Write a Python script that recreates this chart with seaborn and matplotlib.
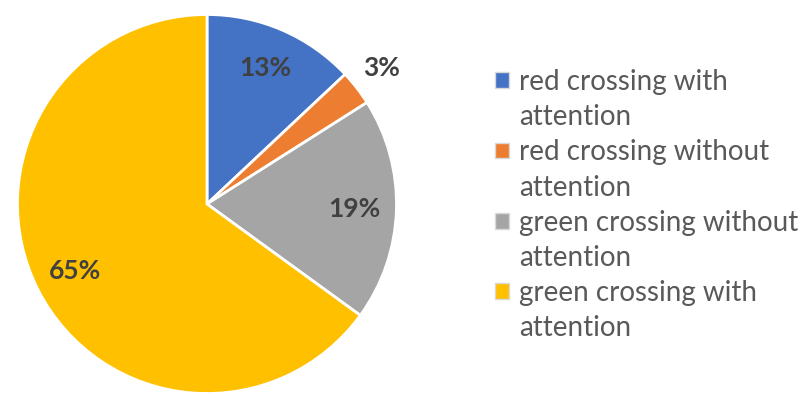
import pandas as pd
import matplotlib.pyplot as plt
import seaborn as sns
from matplotlib.patches import Patch

# data
categories = ['red crossing with attention', 'red crossing without attention',
              'green crossing without attention', 'green crossing with attention']
shares = [13, 3, 19, 65]
colors = ['#4472C4', '#ED7D31', '#A5A5A5', '#FFC000']

df = pd.DataFrame({'category': categories, 'share': shares, 'color': colors})

sns.set_style('white')
plt.rcParams['font.family'] = ['Lato', 'DejaVu Sans']

fig = plt.figure(figsize=(8.02, 3.94), dpi=100)
ax = fig.add_axes([17.5 / 802, 0.5 / 394, 379 / 802, 379 / 394])

wedges, texts, autotexts = ax.pie(
    df['share'], colors=df['color'], startangle=90, counterclock=False,
    autopct='%1.0f%%', pctdistance=0.78,
    wedgeprops=dict(edgecolor='white', linewidth=2),
    textprops=dict(color='#404040', fontsize=19, fontweight='bold'))

# small slice label sits outside the pie
autotexts[1].set_position((0.92, 0.72))

ax.set_xlim(-1, 1)
ax.set_ylim(-1, 1)
ax.set_aspect('equal')

# legend: the label wraps onto a second line, marker only on the first
handles, labels = [], []
for cat, c in zip(df['category'], df['color']):
    first, second = cat.rsplit(' ', 1)
    handles.append(Patch(facecolor=c, edgecolor='#D9D9D9', linewidth=1))
    labels.append(first)
    handles.append(Patch(facecolor='none', edgecolor='none'))
    labels.append(second)

leg = fig.legend(handles, labels, loc='upper left',
                 bbox_to_anchor=(495 / 802, 1 - 69 / 394), frameon=False,
                 fontsize=20, handlelength=0.5, handleheight=0.5,
                 handletextpad=0.36, labelspacing=0.33, borderpad=0,
                 borderaxespad=0, labelcolor='#595959')

fig.savefig('out.png', dpi=100)
